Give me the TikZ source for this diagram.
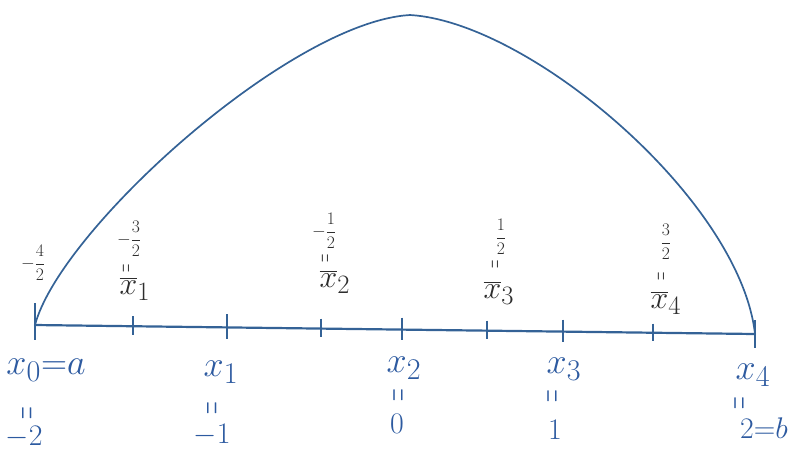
\documentclass[tikz,border=0pt]{standalone}
\usepackage{graphicx}
\definecolor{ink}{RGB}{52,98,150}
\definecolor{inkl}{RGB}{45,90,160}
\definecolor{pencil}{RGB}{45,45,45}
\newcommand{\veq}{\rotatebox{90}{\scalebox{0.6}[1.5]{$=$}}}
\tikzset{
  curveline/.style={ink, line width=1.7pt, line join=round, line cap=round},
  axisline/.style={ink, line width=2.2pt, line cap=round},
  bigtick/.style={ink, line width=2pt},
  smalltick/.style={ink, line width=1.6pt},
  lowlab/.style={inkl, inner sep=0pt, font=\Huge, scale=1.45},
  lowval/.style={inkl, inner sep=0pt, font=\Huge, scale=1.2},
  loweq/.style={inkl, inner sep=0pt, font=\huge, scale=1.4},
  upfrac/.style={pencil, inner sep=0pt, font=\huge, scale=0.85},
  upbar/.style={pencil, inner sep=0pt, font=\Huge, scale=1.28},
  upeq/.style={pencil, inner sep=0pt, font=\LARGE, scale=1.1}
}
\begin{document}
\begin{tikzpicture}[x=1pt,y=-1pt]
\useasboundingbox (0,0) rectangle (799,451);
% tick positions on the axis
\coordinate (t0) at (35,325);
\coordinate (m1) at (133,326.2);
\coordinate (t1) at (227,327.4);
\coordinate (m2) at (321,328.6);
\coordinate (t2) at (402,329.6);
\coordinate (m3) at (487,330.6);
\coordinate (t3) at (563,331.6);
\coordinate (m4) at (653,332.7);
\coordinate (t4) at (755,334);
\coordinate (peak) at (410,15);
% axis
\draw[axisline] (t0) -- (t4);
% ticks
\draw[bigtick] (t0) ++(0,-22) -- ++(0,37);
\draw[bigtick] (t1) ++(0,-13) -- ++(0,25);
\draw[bigtick] (t2) ++(0,-12) -- ++(0,22);
\draw[bigtick] (t3) ++(0,-12) -- ++(0,22);
\draw[bigtick] (t4) ++(0,-14) -- ++(0,28);
\draw[smalltick] (m1) ++(0,-10) -- ++(0,19);
\draw[smalltick] (m2) ++(0,-10) -- ++(0,18);
\draw[smalltick] (m3) ++(0,-10) -- ++(0,18);
\draw[smalltick] (m4) ++(0,-9) -- ++(0,17);
% curve
\draw[curveline] (t0) .. controls (60,230) and (290,22) .. (peak)
                      .. controls (530,22) and (740,200) .. (t4);
% lower labels
\node[lowlab] (lx0) at (46,370) {$x_0{=}a$};
\node[loweq]  (ex0) at (30,413) {\veq};
\node[lowval] (vx0) at (24,437) {$-2$};
\node[lowlab] (lx1) at (221,372) {$x_1$};
\node[loweq]  (ex1) at (215,408) {\veq};
\node[lowval] (vx1) at (212,435) {$-1$};
\node[lowlab] (lx2) at (404,368) {$x_2$};
\node[loweq]  (ex2) at (401,395) {\veq};
\node[lowval] (vx2) at (397,424) {$0$};
\node[lowlab] (lx3) at (564,369) {$x_3$};
\node[loweq]  (ex3) at (555,396) {\veq};
\node[lowval] (vx3) at (555,430) {$1$};
\node[lowlab] (lx4) at (753,375) {$x_4$};
\node[loweq]  (ex4) at (742,403) {\veq};
\node[lowval] (vx4) at (764,428) {$2{=}b$};
% upper labels
\node[upfrac] (f0) at (33,263) {$\displaystyle -\frac{4}{2}$};
\node[upfrac] (f1) at (129,239) {$\displaystyle -\frac{3}{2}$};
\node[upeq]   (e1) at (128,268) {\veq};
\node[upbar]  (b1) at (135,289) {$\overline{x}_1$};
\node[upfrac] (f2) at (324,231) {$\displaystyle -\frac{1}{2}$};
\node[upeq]   (e2) at (327,258) {\veq};
\node[upbar]  (b2) at (335,282) {$\overline{x}_2$};
\node[upfrac] (f3) at (501,237) {$\displaystyle \frac{1}{2}$};
\node[upeq]   (e3) at (497,264) {\veq};
\node[upbar]  (b3) at (499,293) {$\overline{x}_3$};
\node[upfrac] (f4) at (666,242) {$\displaystyle \frac{3}{2}$};
\node[upeq]   (e4) at (663,276) {\veq};
\node[upbar]  (b4) at (666,303) {$\overline{x}_4$};
\end{tikzpicture}
\end{document}
